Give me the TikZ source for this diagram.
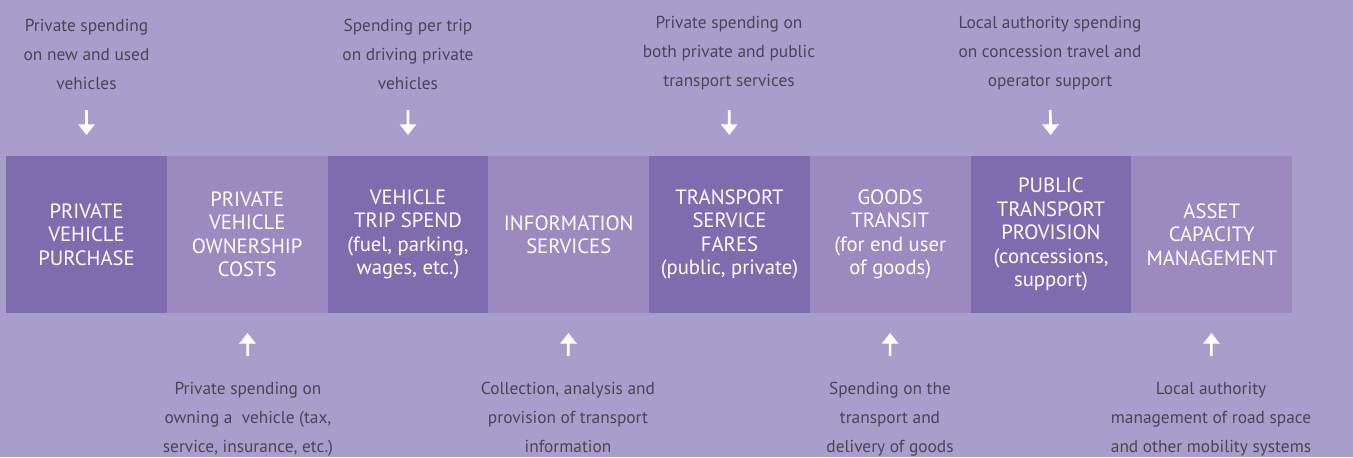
\documentclass[tikz,border=0pt]{standalone}
\usepackage{fontspec}
\setmainfont{PT Sans}
\usetikzlibrary{positioning, arrows.meta}
\definecolor{bgpurple}{HTML}{A99ECB}
\definecolor{darkbox}{HTML}{7F6CAE}
\definecolor{lightbox}{HTML}{9B89C0}
\definecolor{notegray}{HTML}{4A4552}

\begin{document}
\begin{tikzpicture}[x=0.75pt,y=-0.75pt,
    box/.style={minimum width=120.56pt,minimum height=117.75pt,inner sep=0pt,outer sep=0pt,
                text=white,align=center,font=\fontsize{15.5}{17.6}\selectfont},
    dark/.style={box,fill=darkbox},
    light/.style={box,fill=lightbox},
    note/.style={text=notegray,align=center,inner sep=0pt,font=\fontsize{13}{21.6}\selectfont},
    down/.style={-{Triangle[width=12pt,length=8pt]},white,line width=2pt,
                 shorten <=15pt,shorten >=15.75pt},
    up/.style={-{Triangle[width=12pt,length=8pt]},white,line width=2pt,
               shorten <=19.5pt,shorten >=15pt}]

  \fill[bgpurple] (0,0) rectangle (1353,457);
  \useasboundingbox (0,0) rectangle (1353,457);

  % the row of spending categories
  \node[dark] (purchase) at (86.5,234.5) {PRIVATE\\VEHICLE\\PURCHASE};
  \node[light] (ownership) [right=0pt of purchase] {PRIVATE\\VEHICLE\\OWNERSHIP\\COSTS};
  \node[dark] (trip) [right=0pt of ownership] {VEHICLE\\TRIP SPEND\\(fuel, parking,\\wages, etc.)};
  \node[light] (info) [right=0pt of trip] {INFORMATION\\SERVICES};
  \node[dark] (fares) [right=0pt of info] {TRANSPORT\\SERVICE\\FARES\\(public, private)};
  \node[light] (goods) [right=0pt of fares] {GOODS\\TRANSIT\\(for end user\\of goods)};
  \node[dark] (provision) [right=0pt of goods] {PUBLIC\\TRANSPORT\\PROVISION\\(concessions,\\support)};
  \node[light] (asset) [right=0pt of provision] {ASSET\\CAPACITY\\MANAGEMENT};

  % notes above
  \node[note,anchor=south] (purchasenote) at (86.5,90) {Private spending\\on new and used\\vehicles};
  \node[note,anchor=south] (tripnote) at (408,90) {Spending per trip\\on driving private\\vehicles};
  \node[note,anchor=south] (faresnote) at (729,90) {Private spending on\\both private and public\\transport services};
  \node[note,anchor=south] (provisionnote) at (1050,90) {Local authority spending\\on concession travel and\\operator support};

  % notes below
  \node[note,anchor=north] (ownershipnote) at (248,382) {Private spending on\\owning a\ \ vehicle (tax,\\service, insurance, etc.)};
  \node[note,anchor=north] (infonote) at (568,382) {Collection, analysis and\\provision of transport\\information};
  \node[note,anchor=north] (goodsnote) at (890,382) {Spending on the\\transport and\\delivery of goods};
  \node[note,anchor=north] (assetnote) at (1211,382) {Local authority\\management of road space\\and other mobility systems};

  \draw[down] (purchasenote.south) -- (purchase.north);
  \draw[down] (tripnote.south) -- (trip.north);
  \draw[down] (faresnote.south) -- (fares.north);
  \draw[down] (provisionnote.south) -- (provision.north);

  \draw[up] (ownershipnote.north) -- (ownership.south);
  \draw[up] (infonote.north) -- (info.south);
  \draw[up] (goodsnote.north) -- (goods.south);
  \draw[up] (assetnote.north) -- (asset.south);
\end{tikzpicture}
\end{document}
